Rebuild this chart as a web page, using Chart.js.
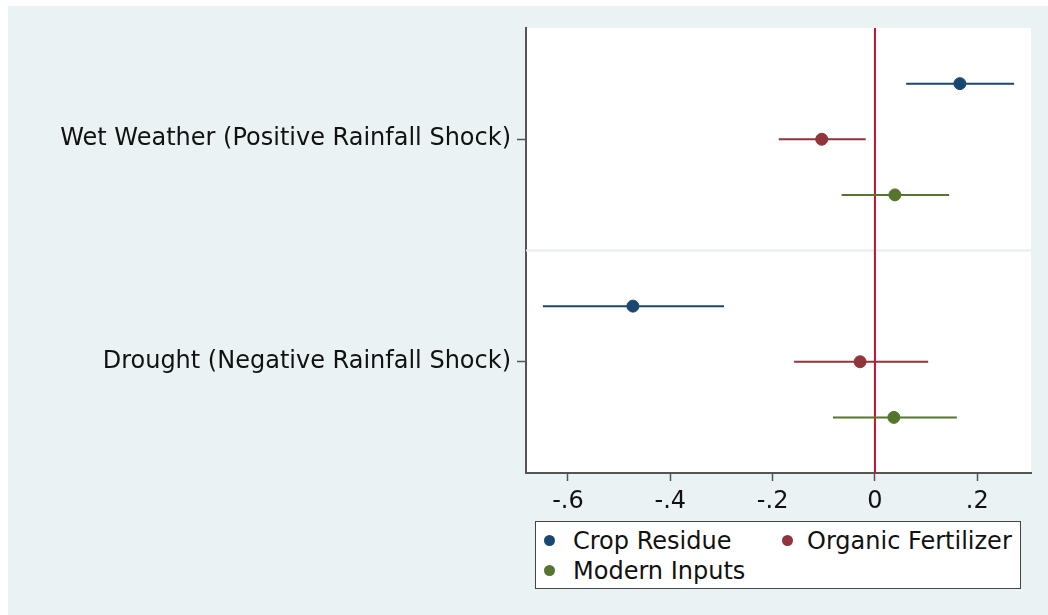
<!DOCTYPE html>
<html>
<head>
<meta charset="utf-8">
<script src="https://cdn.jsdelivr.net/npm/chart.js@4.4.1/dist/chart.umd.min.js"></script>
<style>
  html, body { margin: 0; padding: 0; background: #fff; }
  #wrap { position: relative; width: 1048px; height: 615px; overflow: hidden; }
  #bg { position: absolute; left: 8px; top: 6px; right: 0; bottom: 0; background: #eaf2f3; }
  #chart { position: absolute; left: 0; top: 0; }
  #legend {
    position: absolute; left: 535px; top: 521px; width: 486px; height: 68px;
    background: #fff; border: 1.5px solid #444; box-sizing: border-box;
    font-family: "DejaVu Sans", sans-serif; font-size: 24px; color: #111;
  }
  .dot { position: absolute; width: 11px; height: 11px; border-radius: 50%; }
  .lbl { position: absolute; line-height: 30px; white-space: nowrap; }
</style>
</head>
<body>
<div id="wrap">
  <div id="bg"></div>
  <canvas id="chart" width="1048" height="615"></canvas>
  <div id="legend"></div>
</div>
<script>
// --- Data ---
const categories = ['Wet Weather (Positive Rainfall Shock)', 'Drought (Negative Rainfall Shock)'];
const seriesNames = ['Crop Residue', 'Organic Fertilizer', 'Modern Inputs'];
const seriesColors = ['#1a476f', '#90353b', '#55752f'];

const cropCoef = [0.166, -0.473];
const cropLo = [0.061, -0.649];
const cropHi = [0.272, -0.295];

const organicCoef = [-0.104, -0.029];
const organicLo = [-0.188, -0.158];
const organicHi = [-0.018, 0.104];

const modernCoef = [0.039, 0.037];
const modernLo = [-0.065, -0.082];
const modernHi = [0.145, 0.160];

const xTicks = [-0.6, -0.4, -0.2, 0, 0.2];

// positions on the y axis: category centre and offset of each series
const catCenter = [2, 6];
const seriesOffset = [-1, 0, 1];

const coefs = [cropCoef, organicCoef, modernCoef];
const los = [cropLo, organicLo, modernLo];
const his = [cropHi, organicHi, modernHi];

const datasets = [];
// CI lines
seriesNames.forEach((name, s) => {
    categories.forEach((c, i) => {
        const y = catCenter[i] + seriesOffset[s];
        datasets.push({
            type: 'line',
            data: [{ x: los[s][i], y: y }, { x: his[s][i], y: y }],
            borderColor: seriesColors[s],
            borderWidth: 2,
            pointRadius: 0,
            showLine: true
        });
    });
});
// point estimates
seriesNames.forEach((name, s) => {
    datasets.push({
        type: 'scatter',
        label: name,
        data: categories.map((c, i) => ({ x: coefs[s][i], y: catCenter[i] + seriesOffset[s] })),
        backgroundColor: seriesColors[s],
        borderColor: seriesColors[s],
        pointRadius: 6,
        pointHoverRadius: 6
    });
});

// white plot area, separator and zero line
const plotDecor = {
    id: 'plotDecor',
    beforeDatasetsDraw(chart) {
        const { ctx, chartArea: a, scales } = chart;
        const ySep = scales.y.getPixelForValue(4);
        ctx.save();
        ctx.strokeStyle = '#e6eef0';
        ctx.lineWidth = 2;
        ctx.beginPath();
        ctx.moveTo(a.left, ySep);
        ctx.lineTo(a.right, ySep);
        ctx.stroke();
        const x0 = scales.x.getPixelForValue(0);
        ctx.strokeStyle = '#c8102e';
        ctx.lineWidth = 2;
        ctx.beginPath();
        ctx.moveTo(x0, a.top);
        ctx.lineTo(x0, a.bottom);
        ctx.stroke();
        ctx.restore();
    },
    beforeDraw(chart) {
        const { ctx, chartArea: a } = chart;
        ctx.save();
        ctx.fillStyle = '#fff';
        ctx.fillRect(a.left, a.top, a.right - a.left, a.bottom - a.top);
        ctx.restore();
    }
};

const fmt = v => {
    if (v === 0) return '0';
    const s = Math.abs(v).toFixed(1).replace(/^0/, '');
    return (v < 0 ? '-' : '') + s;
};

new Chart(document.getElementById('chart'), {
    type: 'scatter',
    data: { datasets: datasets },
    plugins: [plotDecor],
    options: {
        responsive: false,
        animation: false,
        layout: { padding: { top: 28, right: 17, left: 0, bottom: 0 } },
        plugins: { legend: { display: false }, tooltip: { enabled: false } },
        scales: {
            x: {
                type: 'linear',
                min: -0.682,
                max: 0.305,
                afterBuildTicks: scale => { scale.ticks = xTicks.map(v => ({ value: v })); },
                afterFit: scale => { scale.height = 142; },
                ticks: {
                    callback: v => fmt(v),
                    color: '#111',
                    font: { family: 'DejaVu Sans', size: 24 },
                    padding: 6,
                    maxRotation: 0
                },
                grid: { drawOnChartArea: false, drawTicks: true, tickLength: 8, color: '#555', tickWidth: 1.5 },
                border: { display: true, color: '#555', width: 2 }
            },
            y: {
                type: 'linear',
                reverse: true,
                min: 0,
                max: 8,
                afterBuildTicks: scale => { scale.ticks = catCenter.map(v => ({ value: v })); },
                afterFit: scale => { scale.width = 526; },
                ticks: {
                    callback: (v) => categories[catCenter.indexOf(v)],
                    color: '#111',
                    font: { family: 'DejaVu Sans', size: 24 },
                    padding: 6
                },
                grid: { drawOnChartArea: false, drawTicks: true, tickLength: 9, color: '#555', tickWidth: 1.5 },
                border: { display: true, color: '#555', width: 2 }
            }
        }
    }
});

// --- Legend ---
const legend = document.getElementById('legend');
// [dot left, text left, row centre] relative to the legend box
const legendPos = [[8, 37, 19], [246, 271, 19], [8, 37, 49]];
seriesNames.forEach((name, s) => {
    const [dx, tx, cy] = legendPos[s];
    const dot = document.createElement('span');
    dot.className = 'dot';
    dot.style.left = dx + 'px';
    dot.style.top = (cy - 6) + 'px';
    dot.style.background = seriesColors[s];
    const lbl = document.createElement('span');
    lbl.className = 'lbl';
    lbl.style.left = tx + 'px';
    lbl.style.top = (cy - 15) + 'px';
    lbl.textContent = name;
    legend.appendChild(dot);
    legend.appendChild(lbl);
});
</script>
</body>
</html>
